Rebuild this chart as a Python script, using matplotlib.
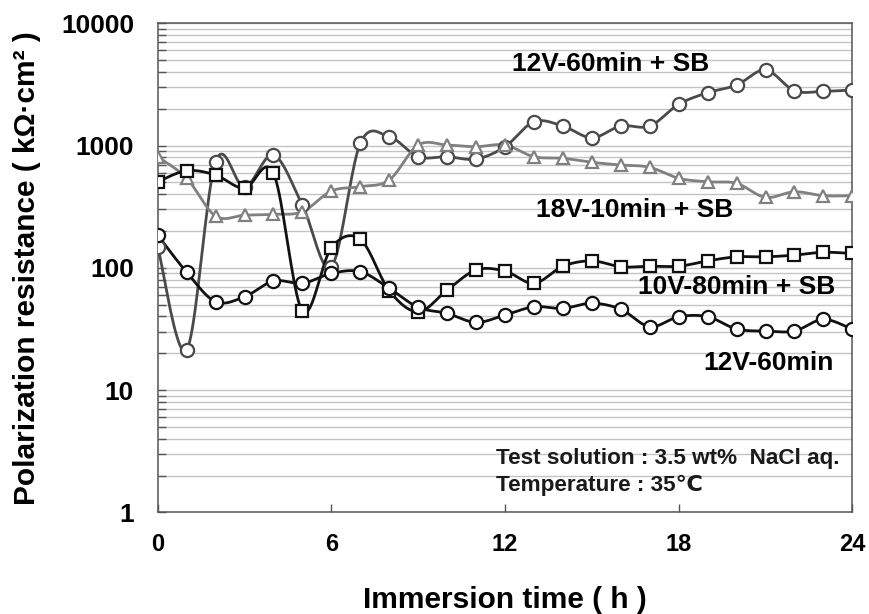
import numpy as np
import matplotlib
matplotlib.use("Agg")
import matplotlib.pyplot as plt
from matplotlib.ticker import LogLocator, FixedLocator, NullFormatter

plt.rcParams['font.family'] = ['Liberation Sans', 'DejaVu Sans']

hours = list(range(25))

rp_12v60_sb = [149, 21.3, 738, 458, 837, 326, 102, 1043, 1181, 811, 811, 776, 979,
               1567, 1445, 1159, 1445, 1445, 2175, 2706, 3127, 4150, 2811, 2780, 2847]
rp_18v10_sb = [811, 540, 265, 270, 274, 288, 425, 461, 523, 1011, 1011, 979, 1011,
               811, 787, 730, 693, 664, 540, 506, 491, 377, 419, 389, 389]
rp_10v80_sb = [506, 623, 574, 447, 593, 44.3, 146, 171, 65, 43.7, 65.8, 96, 94,
               74.7, 103, 114, 102, 103, 103, 114, 123, 123, 127, 134, 131]
rp_12v60 = [185, 92, 52.8, 58, 78, 74.7, 90, 93, 68, 47.5, 42.4, 35.8, 41.1,
            48, 46.6, 51.3, 45.8, 33, 39.8, 39.8, 31.6, 30.4, 30.4, 37.9, 31.4]

labels = ["12V-60min + SB", "18V-10min + SB", "10V-80min + SB", "12V-60min"]
x_ticks = [0, 6, 12, 18, 24]
y_ticks = [1, 10, 100, 1000, 10000]
y_ticklabels = ['1', '10', '100', '1000', '10000']


def smooth(x, y, n=20):
    """Excel-like smoothed line (cubic Bezier / Catmull-Rom) in x, log10(y) space."""
    x = np.asarray(x, float)
    ly = np.log10(np.asarray(y, float))
    P = np.column_stack([x, ly])
    m = len(P)
    out = [P[0]]
    t = np.linspace(0, 1, n + 1)[1:]
    for i in range(m - 1):
        p0 = P[i - 1] if i > 0 else P[i]
        p1 = P[i]
        p2 = P[i + 1]
        p3 = P[i + 2] if i + 2 < m else P[i + 1]
        c1 = p1 + (p2 - p0) / 6.0
        c2 = p2 - (p3 - p1) / 6.0
        seg = ((1 - t) ** 3)[:, None] * p1 + (3 * (1 - t) ** 2 * t)[:, None] * c1 \
            + (3 * (1 - t) * t ** 2)[:, None] * c2 + (t ** 3)[:, None] * p2
        out.extend(seg)
    out = np.array(out)
    return out[:, 0], 10 ** out[:, 1]


fig = plt.figure(figsize=(8.7, 6.14), dpi=100)
ax = fig.add_axes([0.1813, 0.1656, 0.7984, 0.7964])

series = [
    (rp_12v60_sb, 'o', '#4a4a4a', 9.5),
    (rp_18v10_sb, '^', '#808080', 9.0),
    (rp_10v80_sb, 's', '#111111', 9.0),
    (rp_12v60, 'o', '#111111', 9.5),
]
for vals, mk, col, ms in series:
    sx, sy = smooth(hours, vals)
    ax.plot(sx, sy, color=col, lw=2.0, zorder=3)
    ax.plot(hours, vals, linestyle='none', marker=mk, markersize=ms,
            markerfacecolor='white', markeredgecolor=col, markeredgewidth=1.6, zorder=4)

ax.set_yscale('log')
ax.set_ylim(1, 10000)
ax.set_xlim(0, 24)
ax.xaxis.set_major_locator(FixedLocator(x_ticks))
ax.set_xticklabels([str(v) for v in x_ticks])
ax.yaxis.set_minor_locator(LogLocator(base=10, subs=np.arange(2, 10), numticks=20))
ax.yaxis.set_minor_formatter(NullFormatter())
ax.set_yticks(y_ticks)
ax.set_yticklabels(y_ticklabels)

ax.grid(True, which='both', axis='y', color='#c4c4c4', lw=1.0, zorder=0)
ax.set_axisbelow(True)

ax.tick_params(axis='both', which='major', direction='in', length=6, width=1,
               color='#555555')
ax.tick_params(axis='y', which='minor', direction='in', length=6, width=1, color='#555555')
ax.tick_params(axis='y', which='major', pad=17, labelsize=19)
ax.tick_params(axis='x', which='major', pad=15, labelsize=17)
for lab in ax.get_xticklabels() + ax.get_yticklabels():
    lab.set_fontweight('bold')
ax.tick_params(axis='x', which='minor', bottom=False)

for s in ax.spines.values():
    s.set_color('#555555')
    s.set_linewidth(1.1)

ax.set_xlabel('Immersion time ( h )', fontsize=21.5, fontweight='bold')
ax.xaxis.label.set_va('baseline')
ax.xaxis.set_label_coords(0.5, -0.1957)
ax.set_ylabel('Polarization resistance ( kΩ·cm² )', fontsize=21.5, fontweight='bold')
ax.yaxis.label.set_va('baseline')
ax.yaxis.set_label_coords(-0.1767, 0.5)

# curve labels (data coordinates: hours, kΩ·cm²)
ax.text(15.64, 4650, labels[0], fontsize=19, fontweight='bold', ha='center', va='center')
ax.text(16.47, 296, labels[1], fontsize=19, fontweight='bold', ha='center', va='center')
ax.text(20.0, 69.7, labels[2], fontsize=19, fontweight='bold', ha='center', va='center')
ax.text(21.1, 16.7, labels[3], fontsize=19, fontweight='bold', ha='center', va='center')

ax.text(11.69, 2.78, 'Test solution : 3.5 wt%  NaCl aq.', fontsize=16.2, fontweight='bold',
        ha='left', va='center', color='#1a1a1a')
ax.text(11.69, 1.66, 'Temperature : 35℃', fontsize=16.2, fontweight='bold',
        ha='left', va='center', color='#1a1a1a')

fig.savefig('out.png', dpi=100)
